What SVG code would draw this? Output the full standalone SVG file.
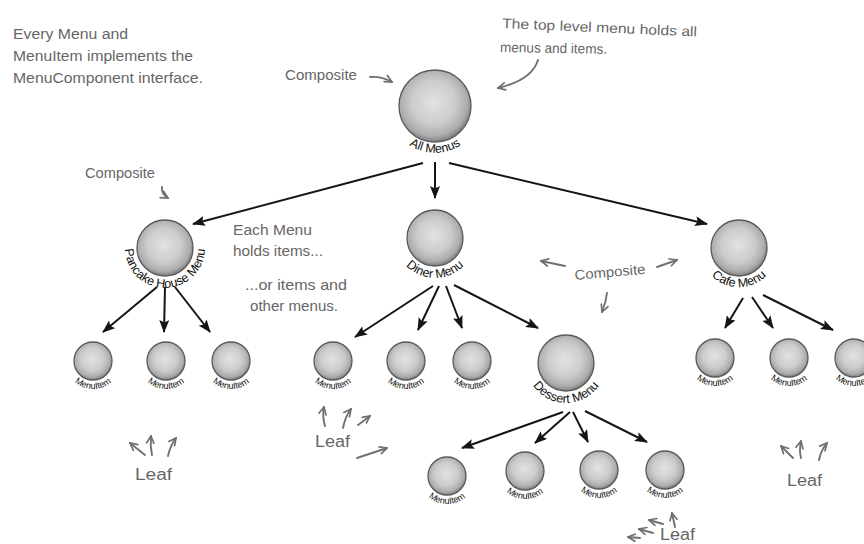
<svg xmlns="http://www.w3.org/2000/svg" width="864" height="544" viewBox="0 0 864 544">
<style>
.note{font-family:"Liberation Sans","DejaVu Sans",sans-serif;fill:#666;font-size:14px}
.leaf{font-family:"Liberation Sans","DejaVu Sans",sans-serif;fill:#666;font-size:16px}
.lbl{font-family:"Liberation Sans","DejaVu Sans",sans-serif;fill:#111;font-size:12.5px}
.ilbl{font-family:"Liberation Sans","DejaVu Sans",sans-serif;fill:#111;font-size:9px}
.ball{fill:url(#ball);stroke:#5a5a5a;stroke-width:1.3}
.con{stroke:#151515;stroke-width:2;fill:none;marker-end:url(#ah)}
.ann{stroke:#707070;stroke-width:1.9;fill:none;stroke-linecap:round;marker-end:url(#oh)}
</style>
<defs>
<radialGradient id="ball" cx="48%" cy="45%" r="55%">
<stop offset="0%" stop-color="#e2e2e2"/>
<stop offset="55%" stop-color="#cccccc"/>
<stop offset="85%" stop-color="#acacac"/>
<stop offset="100%" stop-color="#7c7c7c"/>
</radialGradient>
<marker id="ah" markerUnits="userSpaceOnUse" markerWidth="13" markerHeight="10" viewBox="0 0 13 10" refX="12" refY="5" orient="auto">
<path d="M0,0 L13,5 L0,10 L2.5,5 z" fill="#151515"/>
</marker>
<marker id="oh" markerUnits="userSpaceOnUse" markerWidth="9" markerHeight="9" viewBox="0 0 10 10" refX="9" refY="5" orient="auto">
<path d="M1,1 L9,5 L1,9" fill="none" stroke="#707070" stroke-width="1.9" stroke-linecap="round"/>
</marker>
<path id="pAll" d="M390.8,89.9 A47,47 0 1 0 479.2,89.9"/>
<path id="pPan" d="M127.4,234.3 A40,40 0 1 0 202.6,234.3"/>
<path id="pDin" d="M397.4,224.3 A40,40 0 1 0 472.6,224.3"/>
<path id="pCaf" d="M702.4,234.7 A39,39 0 1 0 775.6,234.7"/>
<path id="pDes" d="M528.4,349.3 A40,40 0 1 0 603.6,349.3"/>
<path id="p1" d="M66.7,351.4 A28,28 0 1 0 119.3,351.4"/>
<path id="p2" d="M139.7,351.4 A28,28 0 1 0 192.3,351.4"/>
<path id="p3" d="M204.7,351.4 A28,28 0 1 0 257.3,351.4"/>
<path id="p4" d="M306.7,351.4 A28,28 0 1 0 359.3,351.4"/>
<path id="p5" d="M379.7,351.4 A28,28 0 1 0 432.3,351.4"/>
<path id="p6" d="M445.7,351.4 A28,28 0 1 0 498.3,351.4"/>
<path id="p7" d="M420.7,466.4 A28,28 0 1 0 473.3,466.4"/>
<path id="p8" d="M498.7,461.4 A28,28 0 1 0 551.3,461.4"/>
<path id="p9" d="M572.7,460.4 A28,28 0 1 0 625.3,460.4"/>
<path id="p10" d="M638.7,460.4 A28,28 0 1 0 691.3,460.4"/>
<path id="p11" d="M688.7,348.4 A28,28 0 1 0 741.3,348.4"/>
<path id="p12" d="M762.7,348.4 A28,28 0 1 0 815.3,348.4"/>
<path id="p13" d="M827.7,348.4 A28,28 0 1 0 880.3,348.4"/>
</defs>

<g id="connectors">
<path class="con" d="M423,163 L193,224"/>
<path class="con" d="M435,162 L435,198"/>
<path class="con" d="M449,163 L707,224"/>
<path class="con" d="M157,287 L103,332"/>
<path class="con" d="M165,287 L164,332"/>
<path class="con" d="M175,287 L210,332"/>
<path class="con" d="M433,286 L355,337"/>
<path class="con" d="M439,286 L418,330"/>
<path class="con" d="M446,286 L462,328"/>
<path class="con" d="M454,285 L538,328"/>
<path class="con" d="M743,298 L725,328"/>
<path class="con" d="M752,297 L773,328"/>
<path class="con" d="M763,295 L833,330"/>
<path class="con" d="M563,412 L462,448"/>
<path class="con" d="M570,412 L535,443"/>
<path class="con" d="M573,412 L588,442"/>
<path class="con" d="M585,411 L647,442"/>
</g>

<g id="allMenus"><circle class="ball" cx="435" cy="106" r="36"/><text class="lbl" font-size="11"><textPath href="#pAll" startOffset="50%" text-anchor="middle">All Menus</textPath></text></g>
<g id="pancake"><circle class="ball" cx="165" cy="248" r="28"/><text class="lbl"><textPath href="#pPan" startOffset="50%" text-anchor="middle">Pancake House Menu</textPath></text></g>
<g id="diner"><circle class="ball" cx="435" cy="238" r="28"/><text class="lbl"><textPath href="#pDin" startOffset="50%" text-anchor="middle">Diner Menu</textPath></text></g>
<g id="cafe"><circle class="ball" cx="739" cy="248" r="28"/><text class="lbl"><textPath href="#pCaf" startOffset="50%" text-anchor="middle">Cafe Menu</textPath></text></g>
<g id="dessert"><circle class="ball" cx="566" cy="363" r="28"/><text class="lbl"><textPath href="#pDes" startOffset="50%" text-anchor="middle">Dessert Menu</textPath></text></g>

<g id="item1"><circle class="ball" cx="93" cy="361" r="19"/><text class="ilbl"><textPath href="#p1" startOffset="50%" text-anchor="middle">MenuItem</textPath></text></g>
<g id="item2"><circle class="ball" cx="166" cy="361" r="19"/><text class="ilbl"><textPath href="#p2" startOffset="50%" text-anchor="middle">MenuItem</textPath></text></g>
<g id="item3"><circle class="ball" cx="231" cy="361" r="19"/><text class="ilbl"><textPath href="#p3" startOffset="50%" text-anchor="middle">MenuItem</textPath></text></g>
<g id="item4"><circle class="ball" cx="333" cy="361" r="19"/><text class="ilbl"><textPath href="#p4" startOffset="50%" text-anchor="middle">MenuItem</textPath></text></g>
<g id="item5"><circle class="ball" cx="406" cy="361" r="19"/><text class="ilbl"><textPath href="#p5" startOffset="50%" text-anchor="middle">MenuItem</textPath></text></g>
<g id="item6"><circle class="ball" cx="472" cy="361" r="19"/><text class="ilbl"><textPath href="#p6" startOffset="50%" text-anchor="middle">MenuItem</textPath></text></g>
<g id="item7"><circle class="ball" cx="447" cy="476" r="19"/><text class="ilbl"><textPath href="#p7" startOffset="50%" text-anchor="middle">MenuItem</textPath></text></g>
<g id="item8"><circle class="ball" cx="525" cy="471" r="19"/><text class="ilbl"><textPath href="#p8" startOffset="50%" text-anchor="middle">MenuItem</textPath></text></g>
<g id="item9"><circle class="ball" cx="599" cy="470" r="19"/><text class="ilbl"><textPath href="#p9" startOffset="50%" text-anchor="middle">MenuItem</textPath></text></g>
<g id="item10"><circle class="ball" cx="665" cy="470" r="19"/><text class="ilbl"><textPath href="#p10" startOffset="50%" text-anchor="middle">MenuItem</textPath></text></g>
<g id="item11"><circle class="ball" cx="715" cy="358" r="19"/><text class="ilbl"><textPath href="#p11" startOffset="50%" text-anchor="middle">MenuItem</textPath></text></g>
<g id="item12"><circle class="ball" cx="789" cy="358" r="19"/><text class="ilbl"><textPath href="#p12" startOffset="50%" text-anchor="middle">MenuItem</textPath></text></g>
<g id="item13"><circle class="ball" cx="854" cy="358" r="19"/><text class="ilbl"><textPath href="#p13" startOffset="50%" text-anchor="middle">MenuItem</textPath></text></g>

<g id="annotations">
<text class="note" x="13" y="39" textLength="115" lengthAdjust="spacingAndGlyphs">Every Menu and</text>
<text class="note" x="13" y="61" textLength="180" lengthAdjust="spacingAndGlyphs">MenuItem implements the</text>
<text class="note" x="13" y="83" textLength="190" lengthAdjust="spacingAndGlyphs">MenuComponent interface.</text>

<text class="note" x="285" y="80" textLength="72" lengthAdjust="spacingAndGlyphs">Composite</text>
<path class="ann" d="M370,77 Q381,76 392,82"/>

<text class="note" x="502" y="28" textLength="195" lengthAdjust="spacingAndGlyphs" transform="rotate(2.5 502 28)">The top level menu holds all</text>
<text class="note" x="500" y="52" textLength="107" lengthAdjust="spacingAndGlyphs" transform="rotate(1 500 52)">menus and items.</text>
<path class="ann" d="M538,60 Q532,80 498,88"/>

<text class="note" x="85" y="178" textLength="70" lengthAdjust="spacingAndGlyphs">Composite</text>
<path class="ann" d="M162,187 Q161,194 168,198"/>

<text class="note" x="233" y="235" textLength="79" lengthAdjust="spacingAndGlyphs">Each Menu</text>
<text class="note" x="233" y="256" textLength="90" lengthAdjust="spacingAndGlyphs">holds items...</text>
<text class="note" x="245" y="290" textLength="102" lengthAdjust="spacingAndGlyphs">...or items and</text>
<text class="note" x="250" y="311" textLength="88" lengthAdjust="spacingAndGlyphs">other menus.</text>

<text class="note" x="575" y="280" textLength="71" lengthAdjust="spacingAndGlyphs" transform="rotate(-5 575 280)">Composite</text>
<path class="ann" d="M565,266 L541,261"/>
<path class="ann" d="M657,267 L677,260"/>
<path class="ann" d="M607,293 Q606,302 602,312"/>

<path class="ann" d="M145,455 L130,443"/>
<path class="ann" d="M152,455 Q150,446 151,436"/>
<path class="ann" d="M168,456 Q170,446 176,438"/>
<text class="leaf" x="135" y="480" textLength="37" lengthAdjust="spacingAndGlyphs">Leaf</text>

<path class="ann" d="M325,426 Q322,416 324,407"/>
<path class="ann" d="M343,428 Q345,417 351,409"/>
<path class="ann" d="M358,425 L370,416"/>
<text class="leaf" x="315" y="447" textLength="35" lengthAdjust="spacingAndGlyphs">Leaf</text>
<path class="ann" d="M357,458 L387,448"/>

<path class="ann" d="M793,458 L781,446"/>
<path class="ann" d="M801,458 Q799,450 801,441"/>
<path class="ann" d="M819,460 Q821,450 827,443"/>
<text class="leaf" x="787" y="486" textLength="35" lengthAdjust="spacingAndGlyphs">Leaf</text>

<path class="ann" d="M640,538 L628,537"/>
<path class="ann" d="M653,533 L639,529"/>
<path class="ann" d="M663,524 L649,520"/>
<path class="ann" d="M675,527 L672,513"/>
<text class="leaf" x="660" y="540" textLength="35" lengthAdjust="spacingAndGlyphs">Leaf</text>
</g>
</svg>
